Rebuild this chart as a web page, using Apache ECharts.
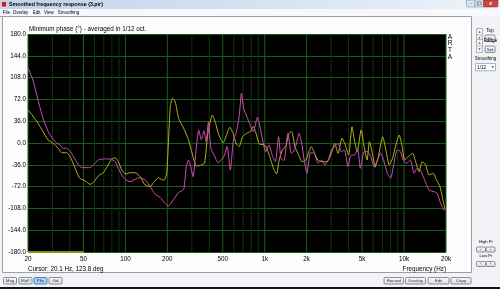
<!DOCTYPE html>
<html><head><meta charset="utf-8">
<script src="https://cdn.jsdelivr.net/npm/echarts@6/dist/echarts.min.js"></script>
<style>html,body{margin:0;padding:0;background:#f1f3f6}#c{width:500px;height:289px}</style>
</head><body><div id="c"></div>
<script>
// ---- data (frequency in Hz, phase in degrees) ----
const magentaFreq = [20,21.7,23.6,25.6,27.9,30.3,32.1,33.8,35.9,37.8,39.9,42.2,44.6,47.1,50,55.7,58.8,63.9,69.4,77.7,84.4,89,94.1,99.3,108,117.5,127.6,138.6,150.6,163.6,177.7,193,204,222,241,262,273,284,294,306,320,336,351,366,380,394,411,433,463,509,537,566,596,622,655,681,706,745,786,828,886,935,1017,1072,1131,1193,1258,1307,1374,1467,1552,1639,1768,1855,1920,2010,2130,2270,2412,2558,2702,2855,3012,3180,3360,3540,3740,3950,4170,4400,4650,4860,5180,5480,5780,6100,6450,6800,7180,7590,8010,8460,8930,9430,9850,10400,11100,11800,12400,13100,13900,15100,16400,17300,18300,19300,20000];
const magentaPhase = [124,104,71,41,19,6,0,-3,-8.6,-8.6,-12.7,-21.5,-30.8,-39,-40.7,-40.7,-36.3,-28,-26.4,-26.4,-30.8,-41.8,-52.8,-60,-63.8,-60,-57.2,-61,-72,-84.7,-90,-100,-104,-93,-82,-76.5,-40,-28,-39,-55.6,-17,21.5,5,20.3,2.2,35.2,-8.8,-19.8,-32.5,-22.6,-6,-44.6,5,16,43.4,82,57.3,43.4,29.7,18.7,42.4,21.5,-14.4,-3.3,-19.8,-30.8,10.4,-25.3,-29,16,-17,-11.5,16,-5,-28,-50,-16,-17,-33.5,-28,-36.3,-28,-11.5,-6,-0.5,-14.4,-11.5,-39,-19.8,-19.8,-11.5,-41.8,-14.4,-14.4,-22.6,-39,-28,-17,-30.8,-50,-58.3,-33.5,-11.5,-14.4,-28,-33.5,-28,-50,-41.8,-44.6,-58.3,-77.6,-80.4,-83,-99.6,-110.6,-108];
const yellowFreq = [20,21.7,23.6,25.6,27.9,30.3,32.9,34.8,37.8,39.9,42.2,44.6,47.1,51.2,55.7,58.8,63.9,69.4,74,79.4,84.4,89,94.1,101,108,117.5,127.6,138.6,150.6,159,173,183,190,198,204,210,218,228,241,262,284,306,324,351,370,391,421,444,468,504,532,561,593,622,655,693,740,786,828,874,914,1000,1056,1115,1163,1216,1270,1340,1414,1493,1560,1648,1751,1850,1976,2074,2157,2277,2404,2583,2800,3012,3180,3360,3590,3790,4000,4230,4400,4610,4920,5140,5430,5640,5960,6190,6540,7020,7410,7830,8270,8730,9220,9640,10100,10700,11500,12100,12800,13500,14300,15100,16200,17100,18100,18800,19600];
const yellowPhase = [54.5,44.6,32.5,19,5,-0.5,-8.8,-16,-16,-21.5,-33.5,-47.4,-58.3,-62.2,-68.2,-65.5,-54.5,-49,-39,-27,-24.3,-30.8,-44.6,-51.2,-49,-49,-55.6,-69.3,-72,-65.5,-57.2,-61,-61,-50,5,60,73.8,68,40.8,24.3,5,-22.6,-38,-36.3,-33.5,16,46,32.5,13.2,0.5,13.2,26,16,-0.5,-6,10.4,16,18.7,27,13.2,-1.6,-3.3,-14.4,-30.8,-43.4,-51.2,-28,-11.5,-6,16,18.7,-6,-19.8,-30.8,-28,-14.4,-6,-17,-28,-30.8,-30.8,-17,-0.5,-17,7.8,-3.3,-19.8,27,5,-14.4,21.5,-3.3,-28,2.2,-19.8,-40,-22.6,10.4,-11.5,-36.3,-25.3,-3.3,13.2,-3.3,-28,-22.6,-17,-30.8,-47.4,-30.8,-36.3,-52.8,-50,-61,-72,-88.6,-108];
const floorFreq = [20, 50];
const floorPhase = [-180, -180];
const minorFreqs = [30,40,60,70,80,90,300,400,600,700,800,900,3000,4000,6000,7000,8000,9000];
const tickFreqs = [20,50,100,200,500,1000,2000,5000,10000,20000];
const tickLabels = ['20','50','100','200','500','1k','2k','5k','10k','20k'];
const phaseMin = -180, phaseMax = 180, phaseStep = 36;

const FONT = '"Liberation Sans", Arial, sans-serif';
const HLINE = '#1a5c1a', MAJOR = '#1a601a', MINOR = '#0e340e';
const pairs = (xs, ys) => xs.map((x, i) => [x, ys[i]]);
// vertical grid lines as broken polylines built from the frequency lists
const verticals = fs => fs.reduce((acc, f) => acc.concat([[f, phaseMin], [f, phaseMax], [f, null]]), []);

function txt(t, x, y, size, opt) {
  opt = opt || {};
  return { type: 'text', silent: true, z: 20, style: {
    text: t, x: x, y: y, fontSize: size, fontFamily: FONT,
    fontWeight: opt.bold ? 'bold' : 'normal', fill: opt.fill || '#000',
    align: opt.align || 'left', verticalAlign: 'middle' } };
}
function button(label, x, y, w, h, hi) {
  return [
    { type: 'rect', silent: true, z: 15, shape: { x: x, y: y, width: w, height: h, r: 1 },
      style: { fill: hi ? '#a9d3f5' : new echarts.graphic.LinearGradient(0,0,0,1,[{offset:0,color:'#fbfbfb'},{offset:1,color:'#dcdcdc'}]),
               stroke: hi ? '#2a6db0' : '#6f7480', lineWidth: 0.8 } },
    txt(label, x + w / 2, y + h / 2 + 0.2, 4.4, { align: 'center', fill: '#1f2a5c' })
  ];
}
function spinner(x, y) {
  return [
    { type: 'rect', silent: true, z: 15, shape: { x: x, y: y, width: 6, height: 13 }, style: { fill: '#f3f3f3', stroke: '#8a8f99', lineWidth: 0.6 } },
    { type: 'line', silent: true, z: 16, shape: { x1: x, y1: y + 6.5, x2: x + 6, y2: y + 6.5 }, style: { stroke: '#8a8f99', lineWidth: 0.5 } },
    { type: 'polygon', silent: true, z: 16, shape: { points: [[x+1.8,y+4.2],[x+4.2,y+4.2],[x+3,y+2.6]] }, style: { fill: '#555' } },
    { type: 'polygon', silent: true, z: 16, shape: { points: [[x+1.8,y+8.8],[x+4.2,y+8.8],[x+3,y+10.4]] }, style: { fill: '#555' } }
  ];
}

const graphics = [].concat(
  [
    { type: 'rect', silent: true, z: -10, shape: { x: 0, y: 0, width: 500, height: 289 }, style: { fill: '#f1f3f6' } },
    { type: 'rect', silent: true, z: 1, shape: { x: 0, y: 0, width: 500, height: 9 },
      style: { fill: new echarts.graphic.LinearGradient(0,0,1,0,[{offset:0,color:'#bfd4ea'},{offset:0.6,color:'#d8e5f3'},{offset:1,color:'#eef3f9'}]) } },
    { type: 'rect', silent: true, z: 2, shape: { x: 1.5, y: 1.5, width: 5, height: 5.5 }, style: { fill: '#c62020', stroke: '#fff', lineWidth: 0.6 } },
    txt('Smoothed frequency response (3.pir)', 9, 4.6, 5.3, { bold: true }),
    { type: 'rect', silent: true, z: 2, shape: { x: 466.5, y: 0, width: 8.5, height: 7, r: [0,0,0,1.5] }, style: { fill: '#d9e4f1', stroke: '#7386a3', lineWidth: 0.5 } },
    { type: 'rect', silent: true, z: 2, shape: { x: 475, y: 0, width: 8.5, height: 7 }, style: { fill: '#d9e4f1', stroke: '#7386a3', lineWidth: 0.5 } },
    { type: 'rect', silent: true, z: 2, shape: { x: 483.5, y: 0, width: 14.5, height: 7, r: [0,0,1.5,0] }, style: { fill: '#c8473e', stroke: '#7a2a25', lineWidth: 0.5 } },
    txt('x', 490.7, 3.3, 5, { align: 'center', fill: '#fff', bold: true }),
    txt('_', 470.7, 2.2, 4, { align: 'center', fill: '#333' }),
    { type: 'rect', silent: true, z: 3, shape: { x: 477.3, y: 2, width: 4, height: 3 }, style: { fill: 'none', stroke: '#333', lineWidth: 0.5 } },
    { type: 'rect', silent: true, z: 1, shape: { x: 0, y: 9, width: 500, height: 7.5 }, style: { fill: '#f6f8fb' } },
    txt('File', 2.7, 12.4, 4.5), txt('Overlay', 12.7, 12.4, 4.5), txt('Edit', 32.7, 12.4, 4.5),
    txt('View', 44, 12.4, 4.5), txt('Smoothing', 57.7, 12.4, 4.5),
    { type: 'rect', silent: true, z: 1, shape: { x: 2.5, y: 16.5, width: 469, height: 256 }, style: { fill: '#fdfdfd', stroke: '#9b9ea4', lineWidth: 1 } },
    { type: 'line', silent: true, z: 1, shape: { x1: 0, y1: 16.5, x2: 2.5, y2: 16.5 }, style: { stroke: '#9b9ea4', lineWidth: 1 } },
    txt('A', 450, 37, 6.5, { align: 'center' }), txt('R', 450, 43.7, 6.5, { align: 'center' }),
    txt('T', 450, 50.4, 6.5, { align: 'center' }), txt('A', 450, 57.1, 6.5, { align: 'center' }),
    txt('Cursor: 20.1 Hz, 123.8 deg', 28, 269, 6.3),
    txt('Frequency (Hz)', 446, 269, 6.3, { align: 'right' }),
    txt('Top', 490, 30.5, 4.5, { align: 'center' }),
    txt('Range', 490.5, 40.5, 4.5, { align: 'center' }),
    txt('Smoothing', 485.5, 58.3, 4.5, { align: 'center' }),
    { type: 'rect', silent: true, z: 15, shape: { x: 475.5, y: 63.5, width: 20, height: 7.3 }, style: { fill: '#fff', stroke: '#7a9cc8', lineWidth: 0.7 } },
    txt('1/12', 477.3, 67.3, 4.5),
    { type: 'polygon', silent: true, z: 16, shape: { points: [[491.5,66.3],[494,66.3],[492.75,68]] }, style: { fill: '#333' } },
    txt('High Pr', 486, 241.8, 4.2, { align: 'center' }),
    txt('Low Pr', 486, 256.3, 4.2, { align: 'center' })
  ],
  spinner(476.5, 28.5), spinner(476.5, 39.5),
  button('Fit', 485, 35, 10, 6.5), button('Set', 485, 46, 10, 6.5),
  button('\u2039', 476.5, 247, 9, 5), button('\u203A', 486, 247, 9, 5),
  button('\u2039', 476.5, 261.5, 9, 5), button('\u203A', 486, 261.5, 9, 5),
  button('Mag', 3.5, 277.5, 13, 6.5), button('MaP', 19, 277.5, 13, 6.5),
  button('Phs', 34, 277.5, 13, 6.5, true), button('Gd', 49, 277.5, 13, 6.5),
  button('Record', 384, 277.5, 19.5, 6.5), button('Overlay', 405.5, 277.5, 20, 6.5),
  button('Edit', 428, 277.5, 21, 6.5), button('Copy', 451, 277.5, 20, 6.5),
  [{ type: 'rect', silent: true, z: 15, shape: { x: 0, y: 287, width: 500, height: 2 }, style: { fill: '#151515' } }]
);

// frequency tick labels placed under the plot through the x scale
const labelMarks = tickFreqs.map((f, i) => ({
  xAxis: f,
  lineStyle: { color: 'rgba(0,0,0,0)', width: 1 },
  label: { show: true, position: 'start', distance: 4, formatter: tickLabels[i], opacity: 1,
           fontSize: 6.3, fontFamily: FONT, color: '#000' }
}));

const chart = echarts.init(document.getElementById('c'), null, { renderer: 'canvas' });
chart.setOption({
  animation: false,
  backgroundColor: 'transparent',
  graphic: { elements: graphics },
  title: { text: 'Minimum phase (\u00B0) - averaged in 1/12 oct.', left: 29, top: 26.3, padding: 0,
           textStyle: { fontSize: 6.3, fontWeight: 'normal', fontFamily: FONT, color: '#000' } },
  grid: { left: 28, top: 34, width: 418, height: 218, show: true, backgroundColor: '#000', borderWidth: 0, z: 2 },
  xAxis: { type: 'log', logBase: 10, min: 20, max: 20000, z: 3,
           axisLine: { show: false }, axisTick: { show: false }, axisLabel: { show: false }, splitLine: { show: false } },
  yAxis: { type: 'value', min: phaseMin, max: phaseMax, interval: phaseStep, z: 3,
           axisLine: { show: false }, axisTick: { show: false },
           axisLabel: { formatter: v => v.toFixed(1), fontSize: 6.3, fontFamily: FONT, color: '#000', margin: 2, showMinLabel: true, showMaxLabel: true },
           splitLine: { lineStyle: { color: HLINE, width: 1 } } },
  series: [
    { type: 'line', z: 3, data: verticals(minorFreqs), showSymbol: false, silent: true, connectNulls: false,
      lineStyle: { color: MINOR, width: 1 } },
    { type: 'line', z: 3, data: verticals(tickFreqs), showSymbol: false, silent: true, connectNulls: false,
      lineStyle: { color: MAJOR, width: 1 },
      markLine: { silent: true, symbol: 'none', animation: false, data: labelMarks } },
    { type: 'line', z: 4, data: pairs(floorFreq, floorPhase), showSymbol: false, silent: true, clip: false,
      lineStyle: { color: '#b2b416', width: 1.5 } },
    { type: 'line', z: 5, data: pairs(yellowFreq, yellowPhase), showSymbol: false, silent: true, smooth: 0.2,
      lineStyle: { color: '#b2b416', width: 1 } },
    { type: 'line', z: 6, data: pairs(magentaFreq, magentaPhase), showSymbol: false, silent: true, smooth: 0.2,
      lineStyle: { color: '#d24cb8', width: 1 } }
  ]
});
</script></body></html>
